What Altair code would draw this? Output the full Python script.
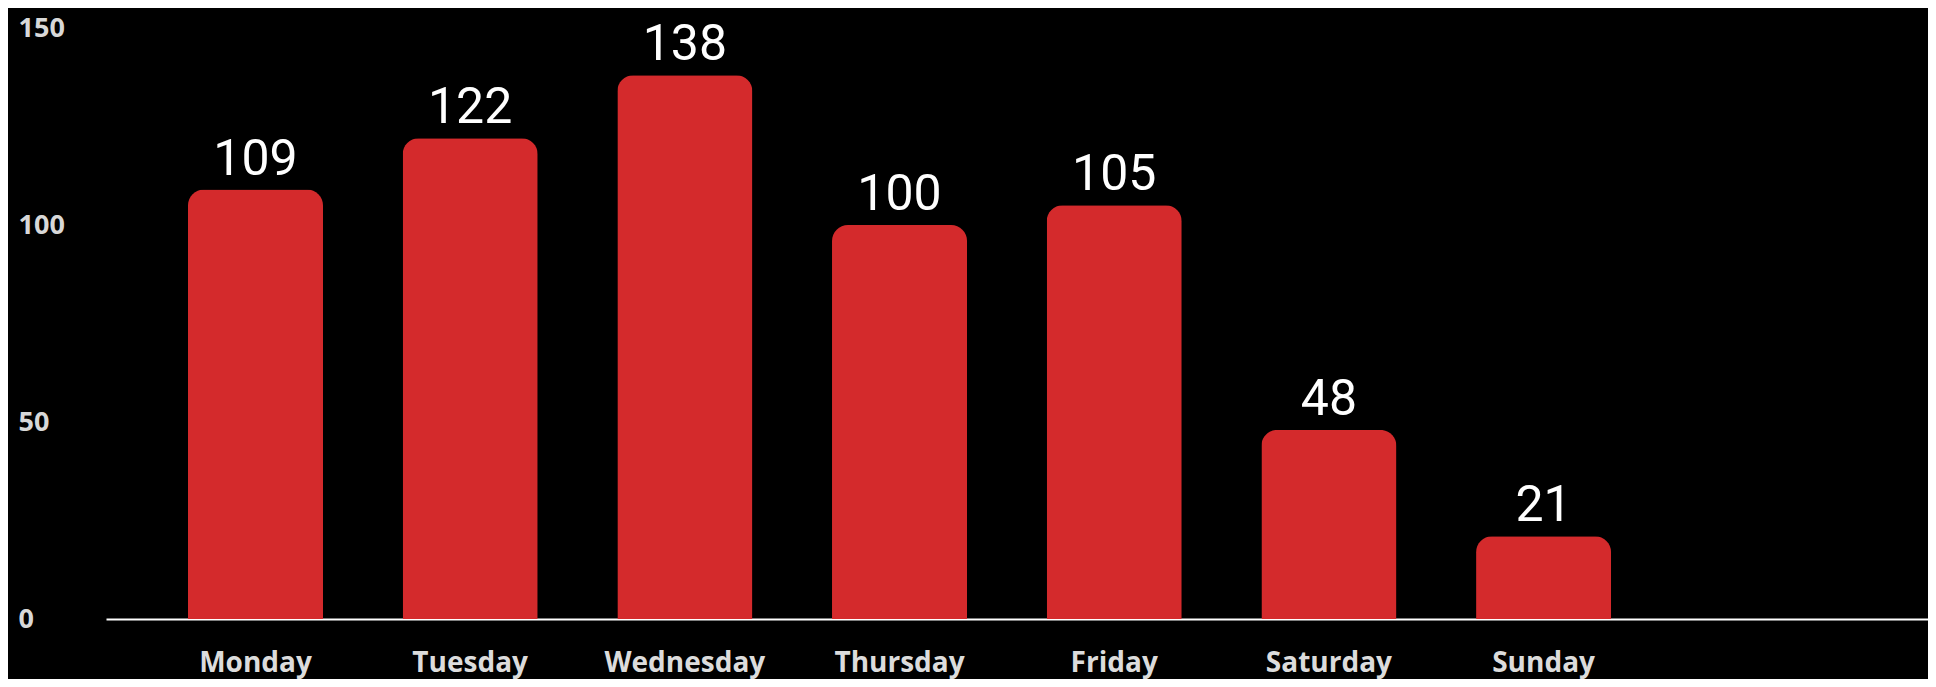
import altair as alt
import pandas as pd

days = ["Monday", "Tuesday", "Wednesday", "Thursday", "Friday", "Saturday", "Sunday"]
counts = [109, 122, 138, 100, 105, 48, 21]
y_ticks = [0, 50, 100, 150]

df = pd.DataFrame({"day": days, "count": counts})

x_enc = alt.X(
    "day:N",
    sort=days,
    title=None,
    scale=alt.Scale(paddingInner=0.371, paddingOuter=0.929, align=0.2055),
    axis=alt.Axis(
        labelAngle=0,
        labelFont="Open Sans",
        labelFontWeight="bold",
        labelFontSize=28,
        labelColor="#dcdcdc",
        labelPadding=30,
        ticks=False,
        domain=True,
        domainColor="#ffffff",
        domainWidth=2,
        grid=False,
    ),
)

y_enc = alt.Y(
    "count:Q",
    title=None,
    scale=alt.Scale(domain=[0, 150], nice=False, zero=True),
    axis=alt.Axis(
        values=y_ticks,
        labelFont="Open Sans",
        labelFontWeight="bold",
        labelFontSize=27,
        labelColor="#d8d8d8",
        labelAlign="left",
        labelBaseline="middle",
        labelPadding=88,
        ticks=False,
        domain=False,
        grid=False,
    ),
)

bars = alt.Chart(df).mark_bar(
    color="#d42a2c",
    cornerRadiusTopLeft=16,
    cornerRadiusTopRight=16,
).encode(x=x_enc, y=y_enc)

labels = alt.Chart(df).mark_text(
    font="Liberation Sans Narrow, Roboto",
    fontSize=50,
    color="#ffffff",
    baseline="alphabetic",
    dy=-15,
).encode(x=alt.X("day:N", sort=days), y="count:Q", text="count:Q")

chart = (
    alt.layer(bars, labels)
    .properties(
        width=1822,
        height=591,
        background="#000000",
        autosize=alt.AutoSizeParams(type="none"),
        padding={"left": 98, "top": 20, "right": 0, "bottom": 60},
    )
    .configure_view(stroke=None, fill="#000000")
)

chart.save("out.html", embed_options={"renderer": "svg", "actions": False})
